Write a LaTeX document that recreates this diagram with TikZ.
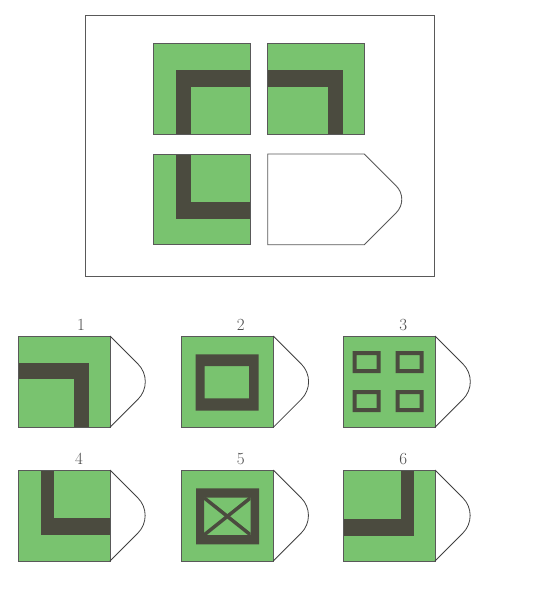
\documentclass[tikz,border=0pt]{standalone}
\definecolor{gr}{HTML}{79C36F}
\definecolor{dk}{HTML}{4B4B3F}
\tikzset{
  tileedge/.style={draw=black!65,line width=0.9pt},
  barfill/.style={fill=dk},
  tipline/.style={draw=black!75,line width=0.8pt},
  numlabel/.style={font=\fontsize{17}{19}\selectfont,text=black!70,inner sep=0pt}
}
\begin{document}
\begin{tikzpicture}[x=1pt,y=-1pt]
\useasboundingbox[fill=white] (0,0) rectangle (554,597);
% main frame
\draw[black!65,line width=1pt] (85,15) rectangle (434,276);
% top-left tile
\fill[gr] (153.3,43.7) rectangle (250.3,134.3);
\fill[barfill] (176,70.3) rectangle (250.3,87.3);
\fill[barfill] (176,70.3) rectangle (191.3,134.3);
\draw[tileedge] (153.3,43.7) rectangle (250.3,134.3);
% top-right tile
\fill[gr] (267.7,43.7) rectangle (364.3,134.3);
\fill[barfill] (267.7,70.3) rectangle (342.7,87.3);
\fill[barfill] (328.3,70.3) rectangle (342.7,134.3);
\draw[tileedge] (267.7,43.7) rectangle (364.3,134.3);
% bottom-left tile
\fill[gr] (153.3,154) rectangle (250.3,244.7);
\fill[barfill] (176,154) rectangle (191.3,219);
\fill[barfill] (176,202.3) rectangle (250.3,219);
\draw[tileedge] (153.3,154) rectangle (250.3,244.7);
% bottom-right empty tile (one outline, no inner edge)
\draw[tileedge] (364.3,244.7) -- (267.7,244.7) -- (267.7,154) -- (364.3,154)
  [rounded corners=19pt] -- (409.65,199.35) -- (364.3,244.7);

% labels
\node[numlabel] (l1) at (81,325) {1};
\node[numlabel] (l2) at (240.7,325) {2};
\node[numlabel] (l3) at (403.3,325) {3};
\node[numlabel] (l4) at (79,459) {4};
\node[numlabel] (l5) at (240.7,459) {5};
\node[numlabel] (l6) at (403.3,459) {6};

% option squares
\foreach \xa/\xb in {18.3/110,181/273.3,343.3/435}{
  \foreach \ya/\yb in {336/427.3,470/561}{
    \fill[gr] (\xa,\ya) rectangle (\xb,\yb);
  }
}
% option 1
\fill[barfill] (18.3,362.7) rectangle (89,379.3);
\fill[barfill] (74,362.7) rectangle (89,427.3);
% option 2
\fill[barfill,even odd rule] (195.7,354.3) rectangle (258.7,410.7) (204.7,366) rectangle (249,398.3);
% option 3
\foreach \ox/\oy in {352.7/351,395.7/351,352.7/390,395.7/390}{
  \fill[barfill,even odd rule] (\ox,\oy) rectangle ++(28,22) (\ox+4,\oy+4) rectangle ++(20,14);
}
% option 4
\fill[barfill] (40.7,470) rectangle (54,535);
\fill[barfill] (40.7,518.3) rectangle (110,535);
% option 5
\fill[barfill,even odd rule] (196,488.3) rectangle (259,544.3) (204,497.7) rectangle (250.7,535);
\begin{scope}
\clip (204,497.7) rectangle (250.7,535);
\draw[dk,line width=3.5pt] (204,497.7) -- (250.7,535);
\draw[dk,line width=3.5pt] (204,535) -- (250.7,497.7);
\end{scope}
% option 6
\fill[barfill] (401,470) rectangle (414.3,535.7);
\fill[barfill] (343.3,519) rectangle (414.3,535.7);

% option borders and tips
\foreach \xa/\xb in {18.3/110,181/273.3,343.3/435}{
  \foreach \ya/\yb in {336/427.3,470/561}{
    \draw[tileedge] (\xa,\ya) rectangle (\xb,\yb);
    \draw[tipline,rounded corners=25pt] (\xb,\ya) -- ({\xb+(\yb-\ya)/2},{(\ya+\yb)/2}) -- (\xb,\yb);
  }
}
\end{tikzpicture}
\end{document}
